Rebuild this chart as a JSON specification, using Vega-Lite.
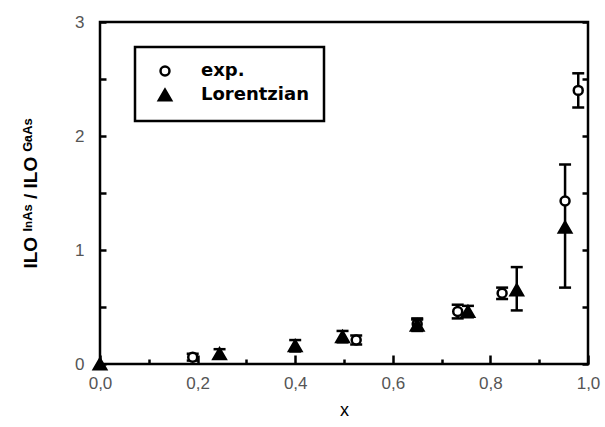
{
  "$schema": "https://vega.github.io/schema/vega-lite/v6.json",
  "width": 488,
  "height": 342,
  "autosize": {"type": "none"},
  "padding": {"left": 100, "top": 22, "right": 17, "bottom": 63},
  "background": "white",
  "config": {
    "view": {"stroke": "black", "strokeWidth": 2.5},
    "axis": {
      "domain": false,
      "grid": false,
      "tickColor": "black",
      "tickWidth": 2.5,
      "labelFont": "Liberation Sans",
      "labelFontSize": 17,
      "labelColor": "#555",
      "labelFlush": false,
      "titleColor": "black"
    },
    "legend": {
      "strokeColor": "black",
      "strokeWidth": 2.5,
      "fillColor": "white",
      "padding": 15,
      "labelFont": "DejaVu Sans",
      "labelFontSize": 18,
      "labelFontWeight": "bold",
      "labelColor": "black",
      "labelOffset": 27,
      "symbolOffset": 6,
      "rowPadding": 3,
      "symbolStrokeWidth": 2.5
    }
  },
  "data": {
    "values": [
      {"series": "exp.", "x": 0.19, "y": 0.06, "lo": 0.03, "hi": 0.09},
      {"series": "exp.", "x": 0.525, "y": 0.21, "lo": 0.17, "hi": 0.25},
      {"series": "exp.", "x": 0.65, "y": 0.35, "lo": 0.3, "hi": 0.4},
      {"series": "exp.", "x": 0.733, "y": 0.46, "lo": 0.4, "hi": 0.52},
      {"series": "exp.", "x": 0.824, "y": 0.62, "lo": 0.57, "hi": 0.67},
      {"series": "exp.", "x": 0.953, "y": 1.43, "lo": 0.67, "hi": 1.75},
      {"series": "exp.", "x": 0.98, "y": 2.4, "lo": 2.25, "hi": 2.55},
      {"series": "Lorentzian", "x": 0.0, "y": 0.0},
      {"series": "Lorentzian", "x": 0.245, "y": 0.09, "lo": 0.05, "hi": 0.13},
      {"series": "Lorentzian", "x": 0.4, "y": 0.16, "lo": 0.11, "hi": 0.21},
      {"series": "Lorentzian", "x": 0.497, "y": 0.24, "lo": 0.19, "hi": 0.29},
      {"series": "Lorentzian", "x": 0.65, "y": 0.34, "lo": 0.29, "hi": 0.39},
      {"series": "Lorentzian", "x": 0.754, "y": 0.46, "lo": 0.41, "hi": 0.51},
      {"series": "Lorentzian", "x": 0.854, "y": 0.65, "lo": 0.47, "hi": 0.85},
      {"series": "Lorentzian", "x": 0.953, "y": 1.2}
    ]
  },
  "resolve": {"axis": {"y": "independent", "x": "independent"}},
  "layer": [
    {
      "transform": [{"filter": "isValid(datum.lo)"}],
      "mark": {"type": "rule", "strokeWidth": 2.5, "color": "black"},
      "encoding": {
        "x": {
          "field": "x", "type": "quantitative", "scale": {"domain": [0, 1]}, "title": "x",
          "axis": {
            "orient": "bottom",
            "ticks": false,
            "values": [0, 0.2, 0.4, 0.6, 0.8, 1.0],
            "labelExpr": "replace(format(datum.value, '.1f'), '.', ',')",
            "labelPadding": 11,
            "titleFont": "Liberation Sans",
            "titleFontSize": 18,
            "titleFontWeight": "normal",
            "titlePadding": 10
          }
        },
        "y": {
          "field": "lo", "type": "quantitative", "scale": {"domain": [0, 3]}, "title": "ILO ᴵⁿᴬˢ / ILO ᴳᵃᴬˢ",
          "axis": {
            "orient": "left",
            "ticks": false,
            "values": [0, 1, 2, 3],
            "format": "d",
            "labelPadding": 16,
            "titleFont": "Liberation Sans",
            "titleFontSize": 19,
            "titleFontWeight": "bold",
            "titlePadding": 34
          }
        },
        "y2": {"field": "hi"}
      }
    },
    {
      "transform": [{"filter": "isValid(datum.lo)"}],
      "mark": {"type": "tick", "orient": "horizontal", "size": 12, "thickness": 2.5, "color": "black", "opacity": 1},
      "encoding": {
        "x": {"field": "x", "type": "quantitative", "scale": {"domain": [0, 1]}, "axis": null},
        "y": {"field": "lo", "type": "quantitative", "scale": {"domain": [0, 3]}, "axis": null}
      }
    },
    {
      "transform": [{"filter": "isValid(datum.hi)"}],
      "mark": {"type": "tick", "orient": "horizontal", "size": 12, "thickness": 2.5, "color": "black", "opacity": 1},
      "encoding": {
        "x": {"field": "x", "type": "quantitative", "scale": {"domain": [0, 1]}, "axis": null},
        "y": {"field": "hi", "type": "quantitative", "scale": {"domain": [0, 3]}, "axis": null}
      }
    },
    {
      "mark": {"type": "point", "stroke": "black", "strokeWidth": 2.5, "opacity": 1, "clip": false},
      "encoding": {
        "x": {"field": "x", "type": "quantitative", "scale": {"domain": [0, 1]}, "axis": null},
        "y": {"field": "y", "type": "quantitative", "scale": {"domain": [0, 3]}, "axis": null},
        "shape": {"field": "series", "type": "nominal", "scale": {"domain": ["exp.", "Lorentzian"], "range": ["circle", "triangle-up"]},
          "legend": {"title": null, "orient": "none", "legendX": 35, "legendY": 25}},
        "fill": {"field": "series", "type": "nominal", "scale": {"domain": ["exp.", "Lorentzian"], "range": ["white", "black"]},
          "legend": {"title": null, "orient": "none", "legendX": 35, "legendY": 25}},
        "size": {"field": "series", "type": "nominal", "scale": {"domain": ["exp.", "Lorentzian"], "range": [80, 150]},
          "legend": {"title": null, "orient": "none", "legendX": 35, "legendY": 25}}
      }
    },
    {
      "mark": {"type": "rule", "opacity": 0},
      "encoding": {
        "y": {
          "field": "y", "type": "quantitative", "scale": {"domain": [0, 3]},
          "axis": {"orient": "right", "values": [0, 0.5, 1, 1.5, 2, 2.5, 3], "labels": false, "tickSize": -6, "title": null}
        }
      }
    },
    {
      "mark": {"type": "rule", "opacity": 0},
      "encoding": {
        "x": {
          "field": "x", "type": "quantitative", "scale": {"domain": [0, 1]},
          "axis": {
            "orient": "top", "title": null, "labels": false, "offset": -342,
            "values": [0, 0.1, 0.2, 0.3, 0.4, 0.5, 0.6, 0.7, 0.8, 0.9, 1.0],
            "tickSize": {"condition": {"test": "abs(round(datum.value*5) - datum.value*5) < 0.001", "value": 9}, "value": 5}
          }
        },
        "y": {
          "field": "y", "type": "quantitative", "scale": {"domain": [0, 3]},
          "axis": {"orient": "right", "title": null, "labels": false, "offset": -488, "values": [0, 0.5, 1, 1.5, 2, 2.5, 3], "tickSize": 6}
        }
      }
    }
  ]
}
